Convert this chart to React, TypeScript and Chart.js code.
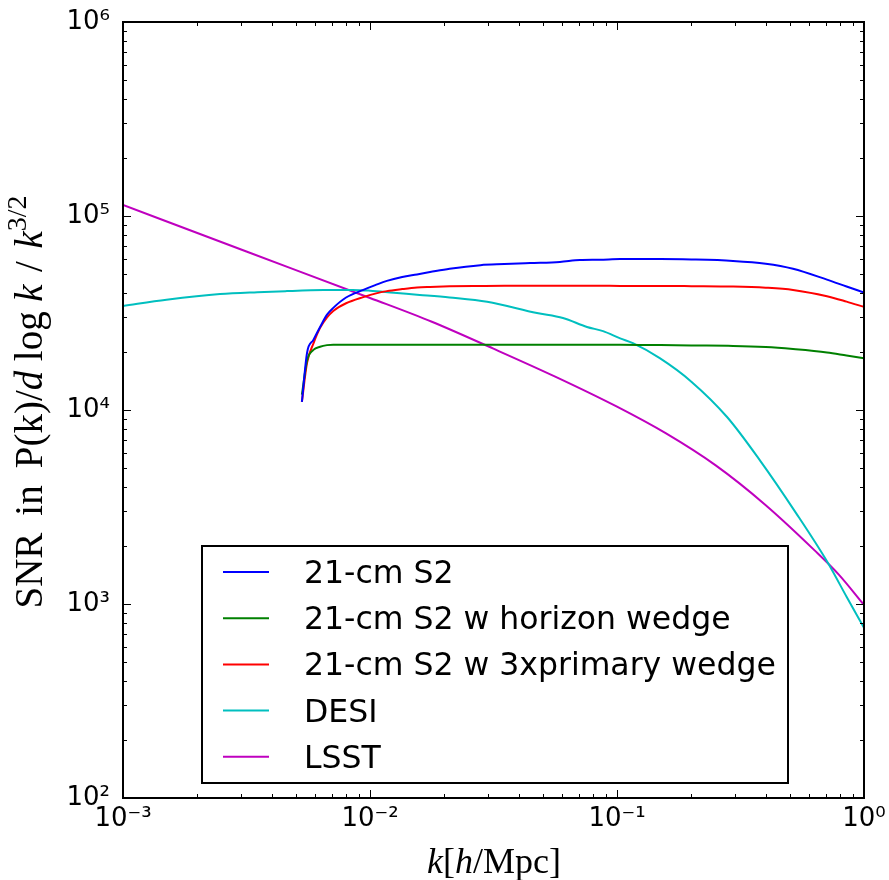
import { useEffect, useRef } from 'react';
import { Chart, registerables } from 'chart.js';

Chart.register(...registerables);

// ---- Data ----
const k21 = [0.0053, 0.00556, 0.0059, 0.00628, 0.0067, 0.0071, 0.008, 0.0094, 0.0105, 0.0117, 0.0135, 0.0155, 0.0175, 0.021, 0.028, 0.035, 0.0445, 0.0587, 0.0708, 0.085, 0.103, 0.15, 0.2, 0.295, 0.4, 0.516, 0.708, 0.85, 1.0];
const snrS2 = [1.1e4, 1.97e4, 2.3e4, 2.68e4, 3.1e4, 3.36e4, 3.8e4, 4.16e4, 4.4e4, 4.63e4, 4.85e4, 5.0e4, 5.14e4, 5.35e4, 5.58e4, 5.65e4, 5.72e4, 5.8e4, 5.93e4, 5.95e4, 6.0e4, 6.0e4, 5.97e4, 5.87e4, 5.68e4, 5.35e4, 4.7e4, 4.33e4, 4.03e4];
const snrHorizon = [1.2e4, 1.8e4, 2.04e4, 2.12e4, 2.16e4, 2.17e4, 2.17e4, 2.17e4, 2.17e4, 2.17e4, 2.17e4, 2.17e4, 2.17e4, 2.17e4, 2.17e4, 2.17e4, 2.17e4, 2.17e4, 2.17e4, 2.17e4, 2.17e4, 2.16e4, 2.15e4, 2.14e4, 2.11e4, 2.06e4, 1.98e4, 1.91e4, 1.85e4];
const snrPrimary = [1.1e4, 1.75e4, 2.2e4, 2.65e4, 3.0e4, 3.24e4, 3.55e4, 3.82e4, 3.98e4, 4.1e4, 4.2e4, 4.28e4, 4.31e4, 4.34e4, 4.36e4, 4.37e4, 4.37e4, 4.37e4, 4.37e4, 4.37e4, 4.36e4, 4.36e4, 4.35e4, 4.33e4, 4.27e4, 4.16e4, 3.86e4, 3.62e4, 3.4e4];

const kDesi = [0.001, 0.0015, 0.00247, 0.0035, 0.00461, 0.0065, 0.0085, 0.01, 0.0125, 0.0159, 0.021, 0.0298, 0.0474, 0.0604, 0.0756, 0.0878, 0.103, 0.116, 0.149, 0.2, 0.279, 0.379, 0.53, 0.708, 0.85, 1.0];
const snrDesi = [3.44e4, 3.7e4, 3.96e4, 4.05e4, 4.1e4, 4.15e4, 4.16e4, 4.12e4, 4.02e4, 3.92e4, 3.8e4, 3.61e4, 3.16e4, 2.98e4, 2.68e4, 2.55e4, 2.34e4, 2.21e4, 1.85e4, 1.4e4, 9.2e3, 5.5e3, 2.95e3, 1.66e3, 1.09e3, 7.55e2];

const kLsst = [0.001, 0.00316, 0.01, 0.0178, 0.0316, 0.0562, 0.1, 0.158, 0.251, 0.398, 0.631, 0.794, 1.0];
const snrLsst = [1.14e5, 6.56e4, 3.78e4, 2.85e4, 2.07e4, 1.486e4, 1.04e4, 7.57e3, 5.18e3, 3.25e3, 1.89e3, 1.41e3, 9.89e2];

const seriesLabels = ['21-cm S2', '21-cm S2 w horizon wedge', '21-cm S2 w 3xprimary wedge', 'DESI', 'LSST'];
const seriesColors = ['#0000ff', '#008000', '#ff0000', '#00bfbf', '#bf00bf'];

const xMajorTicks = [1e-3, 1e-2, 1e-1, 1];
const yMajorTicks = [1e2, 1e3, 1e4, 1e5, 1e6];

const SUP: Record<string, string> = { '-': '⁻', '0': '⁰', '1': '¹', '2': '²', '3': '³', '4': '⁴', '5': '⁵', '6': '⁶', '7': '⁷', '8': '⁸', '9': '⁹' };
function powLabel(v: number): string {
  const e = Math.round(Math.log10(v));
  return '10' + String(e).split('').map((c) => SUP[c] || c).join('');
}

function pts(xs: number[], ys: number[]) {
  return xs.map((x, i) => ({ x, y: ys[i] }));
}

type Seg = { t?: string; it?: boolean; sup?: boolean; gap?: number };

function drawSegs(ctx: CanvasRenderingContext2D, segs: Seg[], size: number, cx: number, baseY: number, target?: number) {
  const fam = '"Liberation Serif", "DejaVu Serif", serif';
  const fontOf = (s: Seg) => `${s.it ? 'italic ' : ''}${s.sup ? Math.round(size * 0.72) : size}px ${fam}`;
  let textW = 0;
  let gapW = 0;
  const widths = segs.map((s) => {
    if (s.gap !== undefined) {
      const g = s.gap * size;
      gapW += g;
      return g;
    }
    ctx.font = fontOf(s);
    const m = ctx.measureText(s.t || '').width;
    textW += m;
    return m;
  });
  let gapScale = 1;
  if (target && gapW > 0) gapScale = Math.min(1.6, Math.max(0.5, (target - textW) / gapW));
  const total = textW + gapW * gapScale;
  let x = cx - total / 2;
  ctx.textBaseline = 'alphabetic';
  ctx.textAlign = 'left';
  segs.forEach((s, i) => {
    if (s.gap !== undefined) {
      x += widths[i] * gapScale;
      return;
    }
    ctx.font = fontOf(s);
    ctx.fillText(s.t || '', x, s.sup ? baseY - size * 0.42 : baseY);
    x += widths[i];
  });
}

const framePlugin = {
  id: 'frameTicks',
  afterDatasetsDraw(chart: any) {
    const { ctx, chartArea: a } = chart;
    const xs = chart.scales.x;
    const ys = chart.scales.y;
    ctx.save();
    ctx.strokeStyle = '#000';
    ctx.lineWidth = 1;
    const tick = (x1: number, y1: number, x2: number, y2: number) => {
      ctx.beginPath();
      ctx.moveTo(x1, y1);
      ctx.lineTo(x2, y2);
      ctx.stroke();
    };
    for (let e = -3; e <= 0; e++) {
      for (let m = 1; m <= 9; m++) {
        const v = m * Math.pow(10, e);
        if (v > 1.0000001) continue;
        const px = Math.round(xs.getPixelForValue(v)) + 0.5;
        const len = m === 1 ? 8 : 4;
        tick(px, a.bottom, px, a.bottom - len);
        tick(px, a.top, px, a.top + len);
      }
    }
    for (let e = 2; e <= 6; e++) {
      for (let m = 1; m <= 9; m++) {
        const v = m * Math.pow(10, e);
        if (v > 1.0000001e6) continue;
        const py = Math.round(ys.getPixelForValue(v)) + 0.5;
        const len = m === 1 ? 8 : 4;
        tick(a.left, py, a.left + len, py);
        tick(a.right, py, a.right - len, py);
      }
    }
    ctx.lineWidth = 2;
    ctx.strokeRect(a.left, a.top, a.right - a.left, a.bottom - a.top);
    ctx.restore();
  },
  afterDraw(chart: any) {
    const { ctx } = chart;
    ctx.save();
    // legend
    const bx = 202, by = 546, bw = 586, bh = 237;
    ctx.fillStyle = '#fff';
    ctx.fillRect(bx, by, bw, bh);
    ctx.strokeStyle = '#000';
    ctx.lineWidth = 2;
    ctx.strokeRect(bx, by, bw, bh);
    chart.data.datasets.forEach((ds: any, i: number) => {
      const ry = 572 + i * 46.2;
      ctx.strokeStyle = ds.borderColor;
      ctx.lineWidth = 2;
      ctx.beginPath();
      ctx.moveTo(223, ry);
      ctx.lineTo(269, ry);
      ctx.stroke();
      ctx.fillStyle = '#000';
      ctx.font = '31.5px "DejaVu Sans"';
      ctx.textAlign = 'left';
      ctx.textBaseline = 'alphabetic';
      ctx.fillText(ds.label, 304, ry + 11);
    });
    // axis titles
    ctx.fillStyle = '#000';
    drawSegs(ctx, [{ t: 'k', it: true }, { t: '[' }, { t: 'h', it: true }, { t: '/Mpc]' }], 36, 494, 873);
    ctx.translate(42, 402);
    ctx.rotate(-Math.PI / 2);
    drawSegs(ctx, [
      { t: 'SNR' }, { gap: 0.3 }, { t: 'in' }, { gap: 0.3 },
      { t: 'P(k)/' },
      { t: 'd', it: true }, { gap: 0.17 },
      { t: 'log' }, { gap: 0.17 },
      { t: 'k', it: true }, { gap: 0.22 },
      { t: '/' }, { gap: 0.22 },
      { t: 'k', it: true },
      { t: '3/2', sup: true },
    ], 39, 0, 0, 413);
    ctx.restore();
  },
};

export default function App() {
  const ref = useRef<HTMLCanvasElement | null>(null);
  useEffect(() => {
    if (!ref.current) return;
    const datasetsData = [pts(k21, snrS2), pts(k21, snrHorizon), pts(k21, snrPrimary), pts(kDesi, snrDesi), pts(kLsst, snrLsst)];
    const chart = new Chart(ref.current, {
      type: 'line',
      data: {
        datasets: datasetsData.map((d, i) => ({
          label: seriesLabels[i],
          data: d,
          borderColor: seriesColors[i],
          backgroundColor: seriesColors[i],
          borderWidth: 2,
          pointRadius: 0,
          fill: false,
          tension: 0.3,
          cubicInterpolationMode: 'monotone' as const,
        })),
      },
      options: {
        animation: false,
        responsive: false,
        devicePixelRatio: 1,
        layout: { padding: { top: 22, right: 25, left: 0, bottom: 0 } },
        plugins: { legend: { display: false }, tooltip: { enabled: false } },
        scales: {
          x: {
            type: 'logarithmic',
            min: 1e-3,
            max: 1,
            afterBuildTicks: (s: any) => { s.ticks = xMajorTicks.map((v) => ({ value: v })); },
            afterFit: (s: any) => { s.height = 82; s.paddingLeft = 0; s.paddingRight = 0; },
            grid: { display: false, drawTicks: false },
            border: { display: false },
            ticks: {
              autoSkip: false,
              maxRotation: 0,
              padding: 6,
              color: '#000',
              font: { family: '"DejaVu Sans"', size: 26 },
              callback: (v: any) => powLabel(Number(v)),
            },
          },
          y: {
            type: 'logarithmic',
            min: 1e2,
            max: 1e6,
            afterBuildTicks: (s: any) => { s.ticks = yMajorTicks.map((v) => ({ value: v })); },
            afterFit: (s: any) => { s.width = 123; s.paddingTop = 0; s.paddingBottom = 0; },
            grid: { display: false, drawTicks: false },
            border: { display: false },
            ticks: {
              autoSkip: false,
              padding: 13,
              color: '#000',
              font: { family: '"DejaVu Sans"', size: 26 },
              callback: (v: any) => powLabel(Number(v)),
            },
          },
        },
      },
      plugins: [framePlugin],
    });
    return () => chart.destroy();
  }, []);
  return (
    <div style={{ position: 'fixed', left: 0, top: 0, width: 889, height: 880, background: '#fff' }}>
      <canvas ref={ref} width={889} height={880} />
    </div>
  );
}
